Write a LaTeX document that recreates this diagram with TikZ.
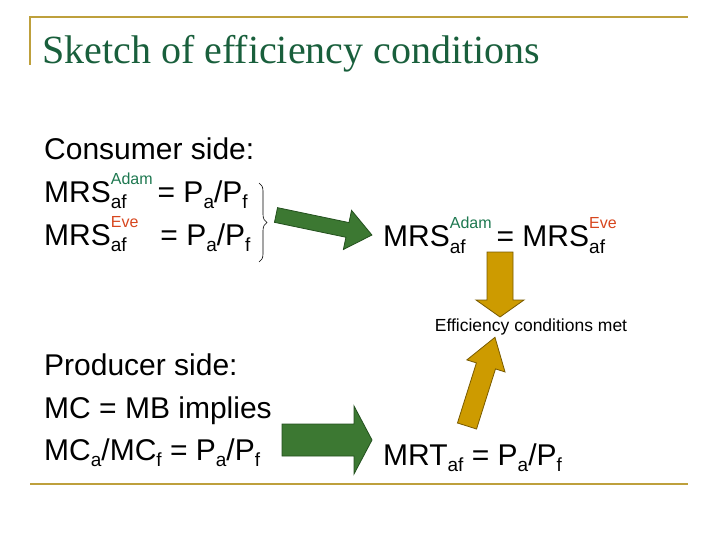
\documentclass[tikz,border=0pt]{standalone}
\usepackage{fontspec}
\setmainfont{Liberation Sans}
\newfontfamily\titlefont{Liberation Serif}
\usetikzlibrary{decorations.pathreplacing}
\definecolor{gold}{RGB}{190,160,60}
\definecolor{ttl}{RGB}{25,95,60}
\definecolor{adam}{RGB}{30,120,80}
\definecolor{eve}{RGB}{215,70,30}
\definecolor{garr}{RGB}{60,120,50}
\definecolor{garrd}{RGB}{35,80,30}
\definecolor{yarr}{RGB}{205,155,0}
\definecolor{yarrd}{RGB}{120,90,0}
\newcommand\lo[1]{\raisebox{-6pt}{\fontsize{19}{19}\selectfont #1}}
\newcommand\hi[2]{\raisebox{18pt}{\fontsize{16}{16}\selectfont\color{#1}#2}}
\newcommand\fatarr[8]{% x y angle len bodyhalf headhalf headlen style
  \begin{scope}[shift={(#1,#2)},rotate=#3]
    \draw[#8] (0,-#5) -- ({#4-#7},-#5) -- ({#4-#7},-#6) -- (#4,0) -- ({#4-#7},#6) -- ({#4-#7},#5) -- (0,#5) -- cycle;
  \end{scope}}
\begin{document}
\begin{tikzpicture}[x=1pt,y=1pt,
  txt/.style={anchor=base west,inner sep=0pt,font=\fontsize{30}{30}\selectfont},
  green arr/.style={fill=garr,draw=garrd,line width=0.8pt},
  gold arr/.style={fill=yarr,draw=yarrd,line width=0.8pt}]
\useasboundingbox (0,0) rectangle (720,-540);
\draw[gold,line width=1.5pt] (30,-65) -- (30,-17) -- (688,-17);
\draw[gold,line width=1.5pt] (30,-484) -- (688,-484);
\node[anchor=base west,inner sep=0pt,text=ttl,font=\titlefont\fontsize{40}{40}\selectfont] (title) at (42,-64) {Sketch of efficiency conditions};
\node[txt] (cs) at (44,-160) {Consumer side:};
\node[txt] (m1) at (44,-203) {MRS\rlap{\lo{af}}\hi{adam}{Adam}\,= P\lo{a}/P\lo{f}};
\node[txt] (m2) at (44,-245) {MRS\rlap{\lo{af}}\hi{eve}{Eve}\hspace{22pt}= P\lo{a}/P\lo{f}};
\draw[decorate,decoration={brace,amplitude=8pt},line width=0.6pt] (259,-183) -- (259,-262);
\node[txt] (ps) at (44,-375) {Producer side:};
\node[txt] (mc) at (44,-418) {MC = MB implies};
\node[txt] (mca) at (44,-460) {MC\lo{a}/MC\lo{f} = P\lo{a}/P\lo{f}};
\node[txt] (eq) at (383,-247) {MRS\rlap{\lo{af}}\hi{adam}{Adam}\,= MRS\rlap{\lo{af}}\hi{eve}{Eve}};
\node[txt] (mrt) at (383,-465) {MRT\lo{af} = P\lo{a}/P\lo{f}};
\node[font=\fontsize{17.5}{17.5}\selectfont,inner sep=1pt] (eff) at (531,-327) {Efficiency conditions met};
\fatarr{276}{-215}{-11.8}{98}{7.5}{20}{25}{green arr}
\fatarr{282}{-440}{0}{90}{16}{34}{18}{green arr}
\fatarr{500}{-252}{-90}{65}{13}{24}{17}{gold arr}
\fatarr{467}{-426}{72.5}{93}{10}{20}{30}{gold arr}
\end{tikzpicture}
\end{document}
